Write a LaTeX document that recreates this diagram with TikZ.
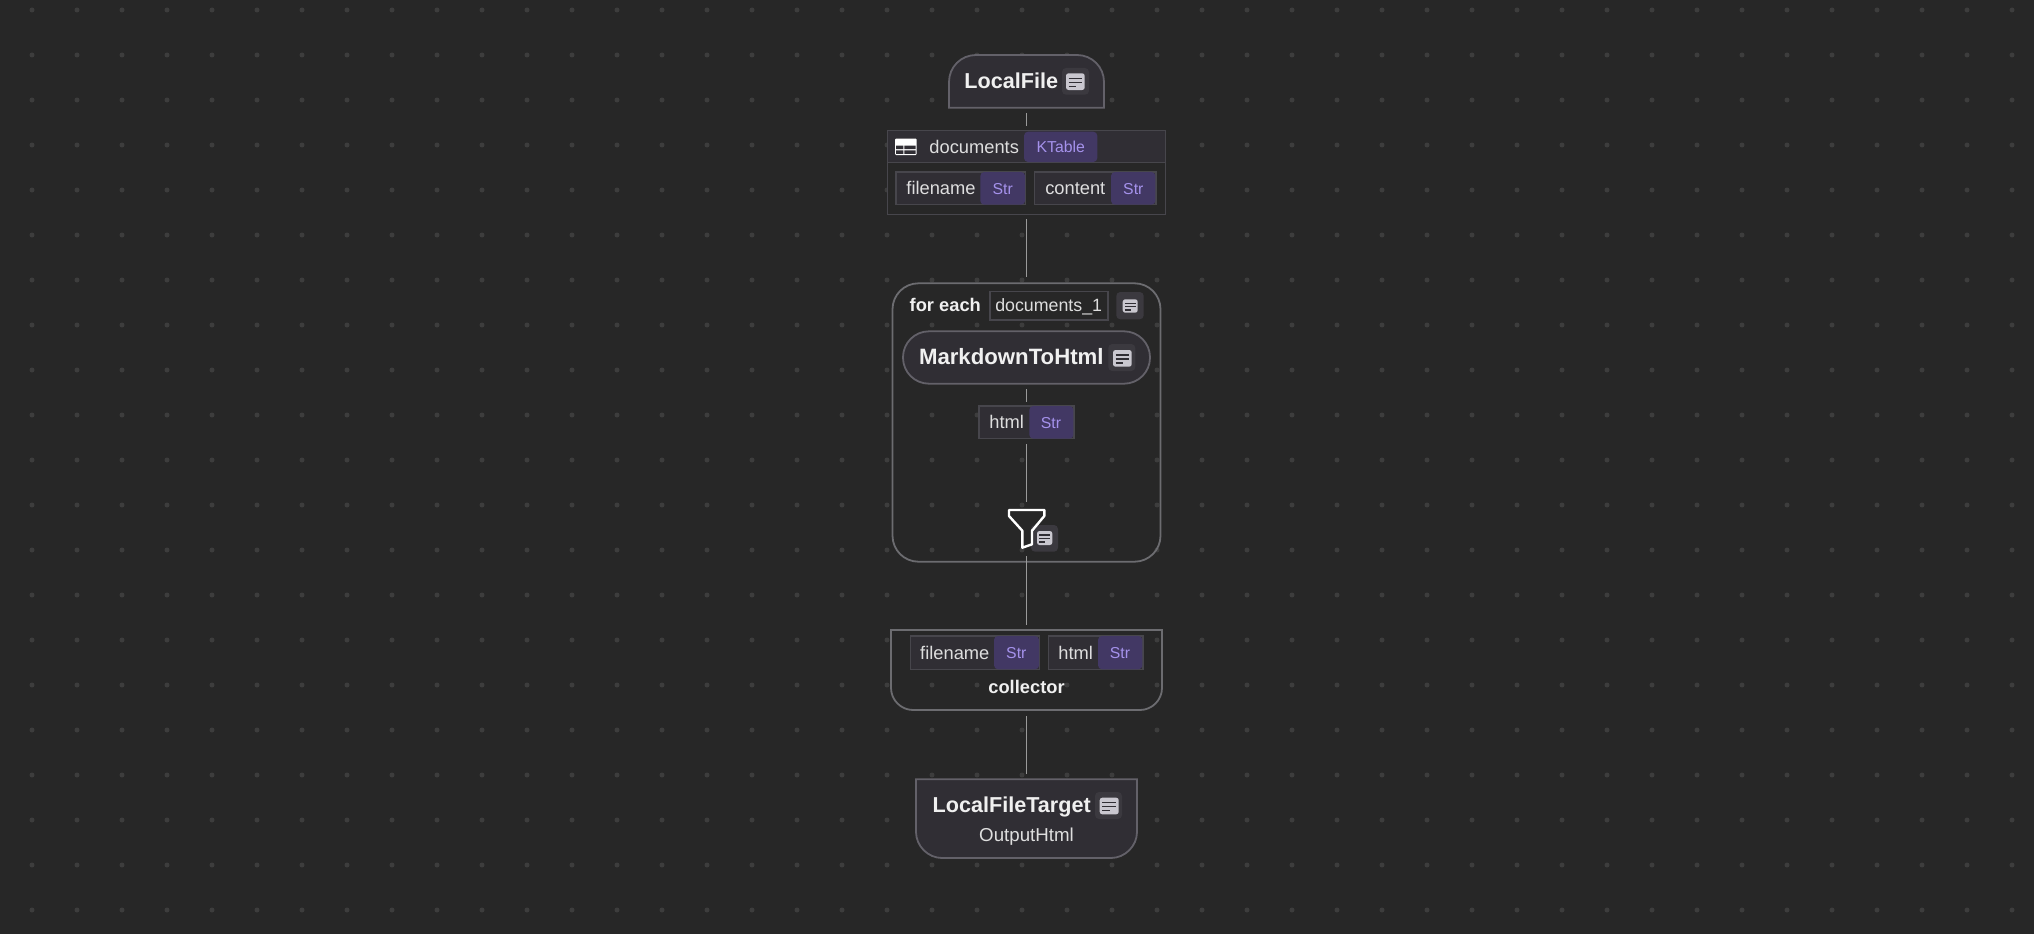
\documentclass[tikz,border=0pt]{standalone}
\usepackage{fontspec}
\setmainfont{Liberation Sans}
\definecolor{bgc}{HTML}{272727}
\definecolor{dotc}{HTML}{3D3D3D}
\definecolor{opfill}{HTML}{302E34}
\definecolor{opline}{HTML}{636169}
\definecolor{groupline}{HTML}{6C6C70}
\definecolor{boxline}{HTML}{47464C}
\definecolor{badgefill}{HTML}{423864}
\definecolor{badgetext}{HTML}{A592EC}
\definecolor{textc}{HTML}{DEDEDE}
\definecolor{boldc}{HTML}{F0F0F0}
\definecolor{iconbg}{HTML}{3B393F}
\definecolor{iconfg}{HTML}{C9C7CF}
\definecolor{linkc}{HTML}{9A9A9A}
\usetikzlibrary{calc}
\tikzset{
  opshape/.style={fill=opfill,draw=opline,line width=1.8pt},
  groupshape/.style={draw=groupline,line width=1.8pt},
  regtext/.style={inner sep=0pt,text=textc,text height=13pt,text depth=0pt,font=\fontsize{18.3}{20}\selectfont},
  boldtext/.style={inner sep=0pt,text=boldc,text height=13pt,text depth=0pt,font=\fontsize{18.3}{20}\selectfont\bfseries},
  titletext/.style={inner sep=0pt,text=boldc,text height=15.5pt,text depth=0pt,font=\fontsize{21.6}{24}\selectfont\bfseries},
  badgetxt/.style={inner sep=0pt,text=badgetext,text height=11.5pt,text depth=0pt,font=\fontsize{15.8}{18}\selectfont},
  link/.style={draw=linkc,line width=1.1pt},
}
% \boxat{name}{x1}{y1}{x2}{y2}{style}: rectangle node with given corners
\newcommand{\boxat}[6]{%
  \path let \n1={#4-#2},\n2={#5-#3} in
    node[inner sep=0pt,outer sep=0pt,minimum width=\n1*1pt,minimum height=\n2*1pt,#6] (#1) at ({(#2+#4)/2},{(#3+#5)/2}) {};}
% \docicon{name}{bgx1}{bgy1}{bgx2}{bgy2}{ix1}{iy1}{ix2}{iy2}
\newcommand{\docicon}[9]{%
  \boxat{#1}{#2}{#3}{#4}{#5}{fill=iconbg,rounded corners=4pt}
  \fill[iconfg,rounded corners=2.5pt] (#6,#7) rectangle (#8,#9);
  \pgfmathsetmacro{\iw}{#8-#6}\pgfmathsetmacro{\ih}{#9-#7}
  \draw[opfill,line width=1.5pt] ({#6+0.14*\iw},{#7+0.30*\ih}) -- ({#8-0.14*\iw},{#7+0.30*\ih});
  \draw[opfill,line width=1.5pt] ({#6+0.14*\iw},{#7+0.54*\ih}) -- ({#8-0.14*\iw},{#7+0.54*\ih});
  \draw[opfill,line width=1.5pt] ({#6+0.14*\iw},{#7+0.78*\ih}) -- ({#6+0.55*\iw},{#7+0.78*\ih});
}
% \pill{name}{x1}{y1}{x2}{y2}{badgex1}{text}{textcenter}{badgetextcenter}
\newcommand{\pill}[9]{%
  \boxat{#1}{#2}{#3}{#4}{#5}{fill=opfill,draw=boxline,line width=1.2pt}
  \boxat{#1b}{#6}{#3+1}{#4-0.6}{#5-1}{fill=badgefill,rounded corners=4pt}
  \node[regtext] (#1t) at (#8,{(#3+#5)/2}) {#7};
  \node[badgetxt] (#1s) at (#9,{(#3+#5)/2}) {Str};
}
\begin{document}
\begin{tikzpicture}[x=1pt,y=-1pt]
\useasboundingbox (0,0) rectangle (2034,934);
\fill[bgc] (0,0) rectangle (2034,934);
\foreach \i in {0,...,44} \foreach \j in {0,...,20}
  \fill[dotc] ({32+45*\i},{10+45*\j}) circle (2.5pt);

% LocalFile
\filldraw[opshape] (949,107.7) -- (949,82) .. controls (949,67) and (961,55) .. (976,55) -- (1077,55) .. controls (1092,55) and (1104,67) .. (1104,82) -- (1104,107.7) -- cycle;
\boxat{localfile}{949}{55}{1104}{107.7}{}
\node[titletext] (lft) at (1011.2,81.2) {LocalFile};
\docicon{lficon}{1062}{68}{1089}{94.7}{1066}{73.3}{1084.7}{90}

% documents table
\boxat{docs}{887.3}{130.3}{1165.7}{214.3}{fill=bgc,draw=boxline,line width=1.2pt}
\fill[opfill] (887.9,130.9) rectangle (1165.1,162.3);
\draw[boxline,line width=1.2pt] (887.3,162.3) -- (1165.7,162.3);
\fill[white,rounded corners=1pt] (895,138.7) rectangle (916.7,155);
\fill[opfill] (896.2,145.6) rectangle (903.3,149) (904.3,145.6) rectangle (915.5,149)
  (896.2,150.4) rectangle (903.3,153.9) (904.3,150.4) rectangle (915.5,153.9);
\node[regtext] (docst) at (974.2,146.7) {documents};
\boxat{ktable}{1024}{131.7}{1097.3}{162}{fill=badgefill,rounded corners=4pt}
\node[badgetxt] (ktablet) at (1060.7,146.9) {KTable};
\pill{f1}{896}{172}{1025.7}{204.7}{980.3}{filename}{941}{1002.7}
\pill{c1}{1034.3}{172}{1156}{204.7}{1111}{content}{1075.3}{1133.3}

% for each group
\boxat{foreach}{892.5}{283.3}{1160.5}{561.7}{groupshape,rounded corners=26pt}
\node[boldtext] (fet) at (945.3,305.2) {for each};
\boxat{dvar}{990}{291.3}{1108}{320}{draw=boxline,line width=1.2pt}
\node[regtext,font=\fontsize{17.8}{20}\selectfont] (dvart) at (1048.7,305.4) {documents\_1};
\docicon{feicon}{1116.3}{292}{1143.7}{319.3}{1122.7}{299.3}{1137.7}{312.7}

% MarkdownToHtml
\boxat{md}{903}{331.3}{1150}{383.7}{opshape,rounded corners=26pt}
\node[titletext,font=\fontsize{22.2}{24}\selectfont\bfseries] (mdt) at (1011.3,357.2) {MarkdownToHtml};
\docicon{mdicon}{1108.3}{344}{1135.3}{371}{1113}{350}{1131.7}{366.7}

% html
\pill{h1}{979}{406}{1074}{438.7}{1029.3}{html}{1006.7}{1051}

% funnel
\docicon{ficon}{1031}{525}{1058}{551.7}{1037}{531}{1052.3}{545}
\boxat{funnel}{1008.7}{510}{1044.3}{547.7}{}
\draw[white,line width=2.4pt,line join=round] (1009,510) -- (1044.3,510) -- (1044.3,516) -- (1032,530.7) -- (1032,544.3) -- (1022.3,547.7) -- (1022.3,530.7) -- (1009,516) -- cycle;

% collector
\draw[groupshape] (891,630) -- (1162,630) -- (1162,688) .. controls (1162,700) and (1152,710) .. (1140,710) -- (913,710) .. controls (901,710) and (891,700) .. (891,688) -- cycle;
\boxat{collector}{891}{630}{1162}{710}{}
\pill{f2}{910.3}{636}{1039.7}{669.3}{994}{filename}{954.8}{1016.3}
\pill{h2}{1048.3}{636}{1143}{669.3}{1098}{html}{1075.7}{1120}
\node[boldtext] (colt) at (1026.5,687.4) {collector};

% LocalFileTarget
\filldraw[opshape] (916,779.3) -- (1137,779.3) -- (1137,832) .. controls (1137,846) and (1125,858) .. (1111,858) -- (942,858) .. controls (928,858) and (916,846) .. (916,832) -- cycle;
\boxat{target}{916}{779.3}{1137}{858}{}
\node[titletext] (targt) at (1011.7,805) {LocalFileTarget};
\docicon{tgicon}{1095}{792}{1122}{819}{1099.7}{797.7}{1118.7}{814.3}
\node[regtext,font=\fontsize{18.7}{20}\selectfont] (outt) at (1026.5,835) {OutputHtml};

% connectors
\draw[link,shorten <=5.5pt,shorten >=4.5pt] (localfile.south) -- (docs.north);
\draw[link,shorten <=4.5pt,shorten >=6.5pt] (docs.south) -- (foreach.north);
\draw[link,shorten <=5.5pt,shorten >=4.5pt] (md.south) -- (h1.north);
\draw[link,shorten <=5.5pt,shorten >=8.5pt] (h1.south) -- (funnel.north);
\draw[link,shorten <=8.5pt,shorten >=5pt] (funnel.south) -- (collector.north);
\draw[link,shorten <=6pt,shorten >=5.5pt] (collector.south) -- (target.north);
\end{tikzpicture}
\end{document}
